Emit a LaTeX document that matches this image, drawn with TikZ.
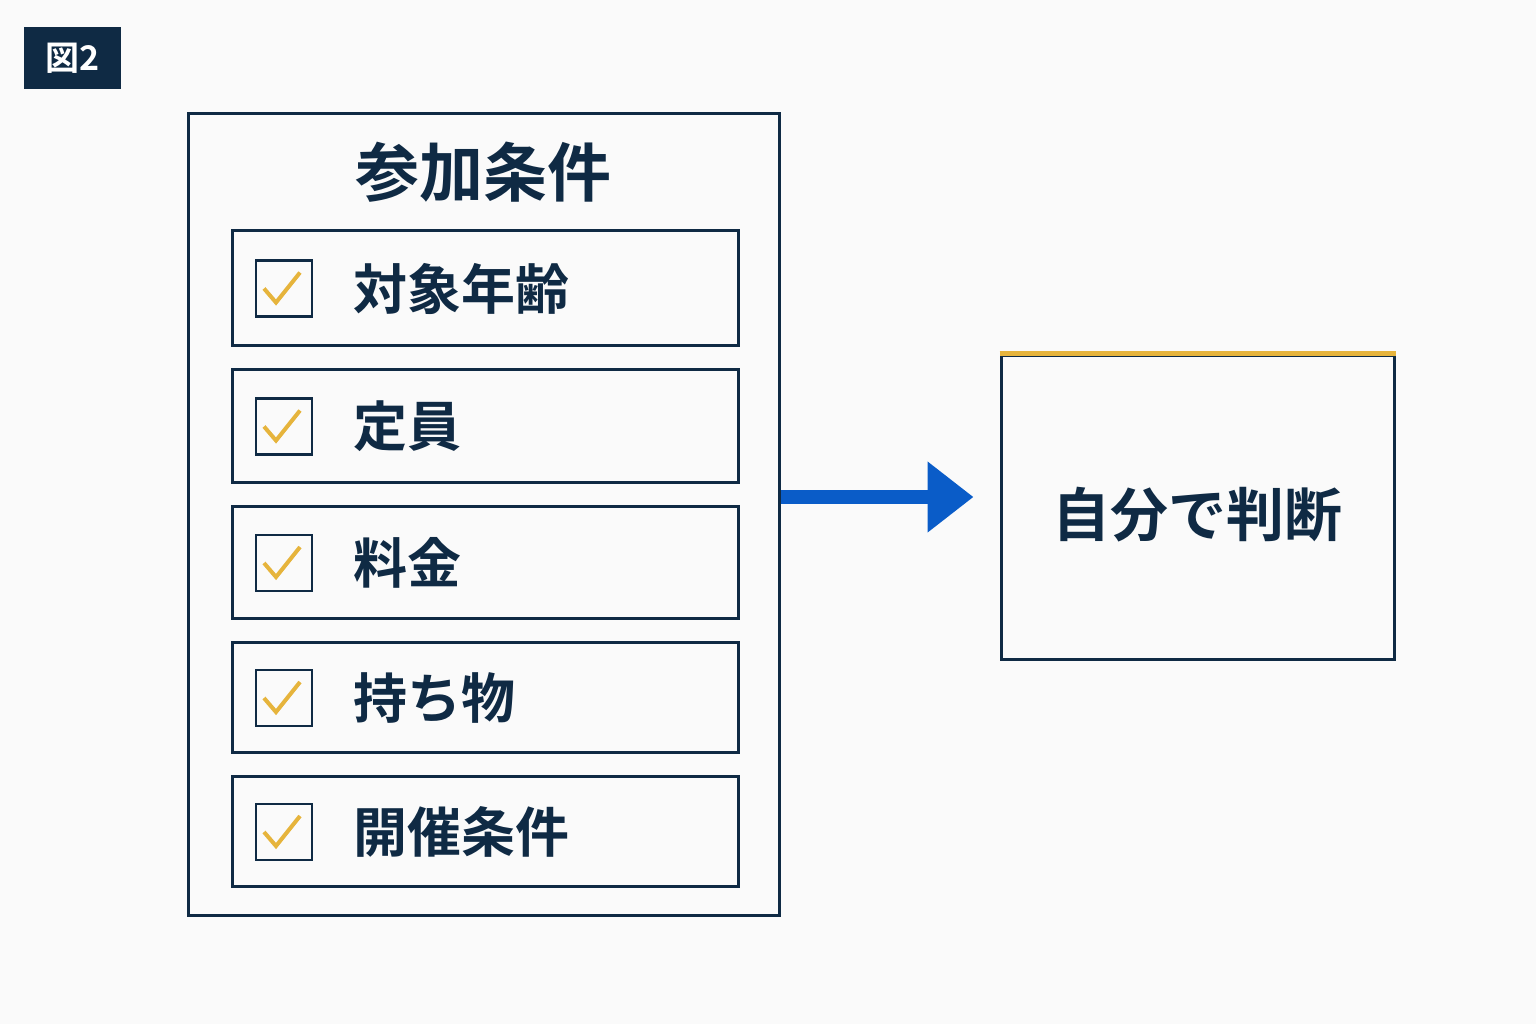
\documentclass[tikz,border=0pt]{standalone}
\usepackage{fontspec}
\newfontfamily\jpfont{Noto Sans CJK JP}[BoldFont={Noto Sans CJK JP Bold}]
\usetikzlibrary{positioning,arrows.meta,calc}
\definecolor{navy}{HTML}{0F2A44}
\definecolor{arrowblue}{HTML}{0A5CC8}
\definecolor{checkyellow}{HTML}{E6B43C}
\tikzset{
  item/.style={draw=navy,line width=1.5pt,minimum width=253pt,minimum height=56pt,inner sep=0pt},
  checkbox/.style={draw=navy,line width=1.4pt,minimum size=28pt,inner sep=0pt},
  itemtext/.style={anchor=west,text=navy,font=\jpfont\bfseries\fontsize{27}{27}\selectfont,inner sep=0pt},
  check/.style={draw=checkyellow,line width=2pt},
}
\begin{document}
\begin{tikzpicture}[x=0.5pt,y=0.5pt,yscale=-1]
\useasboundingbox[fill={rgb,255:red,250;green,250;blue,250}] (0,0) rectangle (1536,1024);

% Figure tag
\node[fill=navy,text=white,minimum width=48.5pt,minimum height=31pt,inner sep=0pt,font=\jpfont\bfseries\fontsize{17}{17}\selectfont] (tag) at (72.5,58) {図2};

% Conditions list
\node[draw=navy,line width=1.5pt,minimum width=295.5pt,minimum height=401pt,inner sep=0pt] (list) at (483.5,514) {};
\node[text=navy,font=\jpfont\bfseries\fontsize{32}{32}\selectfont] (title) at (483,172) {参加条件};

\foreach \y/\h/\txt [count=\i] in {287.5/115/対象年齢, 425.5/113/定員, 562/112/料金, 697/110/持ち物, 831/110/開催条件}{
  \node[item,minimum height=\h*0.5pt] (row\i) at (485,\y) {};
  \node[checkbox] (box\i) at (284,\y+1) {};
  \draw[check] ($(box\i.center)+(-20,0)$) -- ($(box\i.center)+(-8,14)$) -- ($(box\i.center)+(16,-16)$);
  \node[itemtext] (text\i) at (353,\y+1) {\txt};
}

% Result box
\node[draw=navy,line width=1.5pt,minimum width=196.5pt,minimum height=152pt,inner sep=0pt] (judge) at (1197.5,507) {};
\draw[checkyellow,line width=2.5pt] (judge.north west) -- (judge.north east);
\node[text=navy,font=\jpfont\bfseries\fontsize{29}{29}\selectfont] (judgetext) at (1197,515) {自分で判断};

% Arrow
\draw[arrowblue,line width=7pt,shorten >=13pt,-{Triangle[length=23pt,width=34pt]}] (list.east |- 0,497) -- (judge.west |- 0,497);
\end{tikzpicture}
\end{document}
